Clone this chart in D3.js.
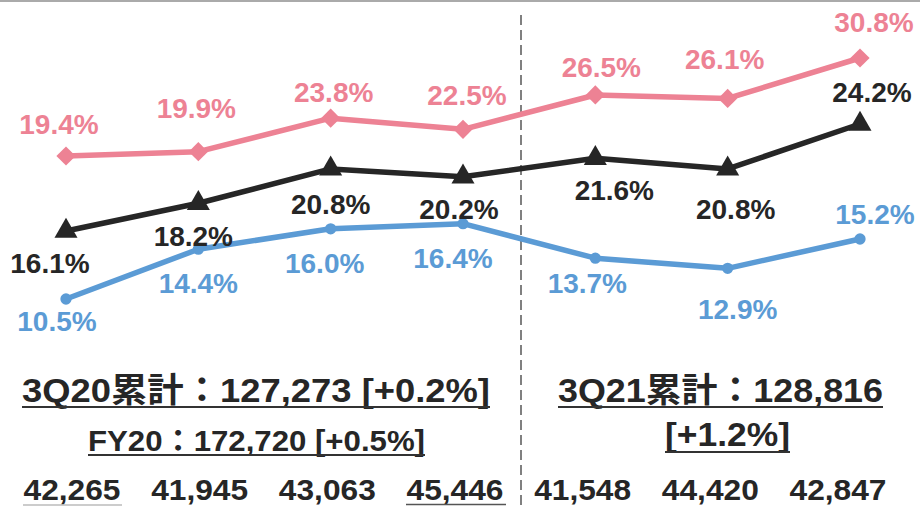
<!DOCTYPE html>
<html>
<head>
<meta charset="utf-8">
<script src="https://cdn.jsdelivr.net/npm/d3@7"></script>
<style>
  body { margin: 0; background: #fff; }
  svg text { font-family: "Liberation Sans", Arial, "Noto Sans CJK JP", sans-serif; font-weight: bold; }
</style>
</head>
<body>
<svg id="chart"></svg>
<script>
// quarters shown left to right
var quarters = ["1Q20", "2Q20", "3Q20", "4Q20", "1Q21", "2Q21", "3Q21"];

// three ratio series (%)
var pinkValues  = [19.4, 19.9, 23.8, 22.5, 26.5, 26.1, 30.8];
var blackValues = [16.1, 18.2, 20.8, 20.2, 21.6, 20.8, 24.2];
var blueValues  = [10.5, 14.4, 16.0, 16.4, 13.7, 12.9, 15.2];

// quarterly totals along the bottom
var quarterTotals = [42265, 41945, 43063, 45446, 41548, 44420, 42847];

// summary texts
var leftTitle  = "3Q20累計：127,273 [+0.2%]";
var leftSub    = "FY20：172,720 [+0.5%]";
var rightTitle = "3Q21累計：128,816";
var rightSub   = "[+1.2%]";

var width = 920,
    height = 507;

var svg = d3.select("#chart")
    .attr("width", width)
    .attr("height", height);

// top rule
svg.append("line")
  .attr("x1", 0).attr("x2", width)
  .attr("y1", 1).attr("y2", 1)
  .attr("stroke", "#aaaaaa")
  .attr("stroke-width", 2);

// dashed divider between the two years
svg.append("line")
  .attr("x1", 521).attr("x2", 521)
  .attr("y1", 15).attr("y2", height)
  .attr("stroke", "#808080")
  .attr("stroke-width", 2)
  .attr("stroke-dasharray", "10,5");

var x = d3.scalePoint()
    .domain(quarters)
    .range([66, 860]);

// each series sits on its own vertical scale in the original
var yPink = d3.scaleLinear().domain([19.4, 30.8]).range([156, 58]);
var yBlack = d3.scaleLinear().domain([16.1, 24.2]).range([231, 124]);
var yBlue = d3.scaleLinear().domain([10.5, 15.2]).range([299, 239]);

var fmt = d3.format(".1f");

// label nudges (dx, dy from the marker to the label baseline)
var pinkNudge  = [[-7,-22],[-2,-34],[3,-16],[4,-24],[6,-18],[-3,-29],[14,-26]];
var blackNudge = [[-16,42],[-5,43],[0,45],[-4,42],[19,42],[8,50],[12,-22]];
var blueNudge  = [[-9,32],[0,44],[-6,44],[-10,44],[-8,35],[10,51],[15,-15]];

var series = [
  { values: blueValues,  y: yBlue,  color: "#5b9bd5", symbol: d3.symbolCircle,   size: 100, rotate: 0,  nudge: blueNudge },
  { values: blackValues, y: yBlack, color: "#262626", symbol: d3.symbolTriangle, size: 230, rotate: 0,  nudge: blackNudge },
  { values: pinkValues,  y: yPink,  color: "#ed8294", symbol: d3.symbolSquare,   size: 185, rotate: 45, nudge: pinkNudge }
];

series.forEach(function(s) {
  var pts = s.values.map(function(v, i) { return { q: quarters[i], v: v, i: i }; });

  var line = d3.line()
    .x(function(d) { return x(d.q); })
    .y(function(d) { return s.y(d.v); });

  svg.append("path")
    .datum(pts)
    .attr("d", line)
    .attr("fill", "none")
    .attr("stroke", s.color)
    .attr("stroke-width", 5.5)
    .attr("stroke-linejoin", "round");

  svg.selectAll(null)
    .data(pts)
    .enter()
    .append("path")
    .attr("d", d3.symbol().type(s.symbol).size(s.size))
    .attr("transform", function(d) {
      return "translate(" + x(d.q) + "," + s.y(d.v) + ") rotate(" + s.rotate + ")";
    })
    .attr("fill", s.color);

  svg.selectAll(null)
    .data(pts)
    .enter()
    .append("text")
    .attr("x", function(d) { return x(d.q) + s.nudge[d.i][0]; })
    .attr("y", function(d) { return s.y(d.v) + s.nudge[d.i][1]; })
    .attr("text-anchor", "middle")
    .style("font-size", "28px")
    .attr("fill", s.color)
    .text(function(d) { return fmt(d.v) + "%"; });
});

// summary headings, stretched to the widths seen in the original
function heading(str, x0, x1, base, size, lineY) {
  svg.append("text")
    .attr("x", x0)
    .attr("y", base)
    .attr("textLength", x1 - x0)
    .attr("lengthAdjust", "spacingAndGlyphs")
    .style("font-size", size + "px")
    .attr("fill", "#262626")
    .text(str);
  svg.append("line")
    .attr("x1", x0).attr("x2", x1)
    .attr("y1", lineY).attr("y2", lineY)
    .attr("stroke", "#333333")
    .attr("stroke-width", 2);
}

heading(leftTitle, 22, 490, 402, 34, 407);
heading(leftSub, 88, 425, 451, 30, 455);
heading(rightTitle, 558, 883, 402, 34, 407);
heading(rightSub, 665, 790, 446, 34, 452);

// quarterly totals
var xTotals = d3.scalePoint()
    .domain(quarters)
    .range([72, 838]);

var comma = d3.format(",");

svg.selectAll(".total")
  .data(quarterTotals)
  .enter()
  .append("text")
  .attr("class", "total")
  .attr("x", function(d, i) { return xTotals(quarters[i]); })
  .attr("y", 500)
  .attr("text-anchor", "middle")
  .attr("textLength", 97)
  .attr("lengthAdjust", "spacingAndGlyphs")
  .style("font-size", "30px")
  .attr("fill", "#262626")
  .text(function(d) { return comma(d); });

// underlines under the first and fourth totals
svg.append("line")
  .attr("x1", xTotals(quarters[0]) - 49).attr("x2", xTotals(quarters[0]) + 50)
  .attr("y1", 505).attr("y2", 505)
  .attr("stroke", "#bbbbbb").attr("stroke-width", 1.5);
svg.append("line")
  .attr("x1", xTotals(quarters[3]) - 49).attr("x2", xTotals(quarters[3]) + 51)
  .attr("y1", 504.5).attr("y2", 504.5)
  .attr("stroke", "#555555").attr("stroke-width", 1.5);
</script>
</body>
</html>
